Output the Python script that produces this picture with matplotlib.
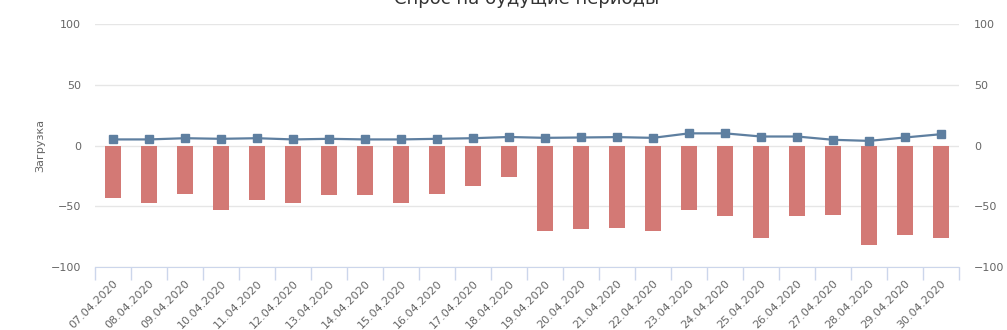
import matplotlib
matplotlib.use("Agg")
import matplotlib.pyplot as plt
import numpy as np

# === DATA ===
dates = ["07.04.2020", "08.04.2020", "09.04.2020", "10.04.2020", "11.04.2020",
         "12.04.2020", "13.04.2020", "14.04.2020", "15.04.2020", "16.04.2020",
         "17.04.2020", "18.04.2020", "19.04.2020", "20.04.2020", "21.04.2020",
         "22.04.2020", "23.04.2020", "24.04.2020", "25.04.2020", "26.04.2020",
         "27.04.2020", "28.04.2020", "29.04.2020", "30.04.2020"]
demand = [-43, -47, -40, -53, -45, -47, -40.5, -40.5, -47, -40, -33, -26,
          -70, -69, -68, -70, -53, -58, -76, -58, -57, -82, -74, -76]
load = [5, 5, 6, 5.5, 6, 5, 5.5, 5, 5, 5.5, 6, 7,
        6.3, 6.6, 6.9, 6.3, 10, 10, 7.4, 7.4, 4.7, 3.8, 6.6, 9.3]
yticks = [-100, -50, 0, 50, 100]

# === STYLE ===
bar_color = "#d37975"
line_color = "#5e7fa0"
text_color = "#666666"
grid_color = "#e6e6e6"
axis_color = "#ccd6eb"

W, H = 1007, 330
fig = plt.figure(figsize=(W / 100, H / 100), dpi=100)
ax = fig.add_axes([95 / W, 1 - 267 / H, (959 - 95) / W, (267 - 24) / H])

x = np.arange(len(dates))
ax.bar(x, demand, width=0.47, color=bar_color, zorder=2)
ax.plot(x, load, color=line_color, lw=1.6, marker="s", markersize=6, zorder=3)

ax.set_xlim(-0.5, len(dates) - 0.5)
ax.set_ylim(-100, 100)
ax.set_yticks(yticks)
ax.yaxis.grid(True, color=grid_color, lw=1, zorder=0)
ax.set_axisbelow(True)

for s in ["top", "right", "left"]:
    ax.spines[s].set_visible(False)
ax.spines["bottom"].set_color(axis_color)

# category boundary ticks
ax.set_xticks(np.arange(len(dates) + 1) - 0.5)
ax.set_xticklabels([])
ax.tick_params(axis="x", which="major", length=9, color=axis_color, width=1)
ax.set_xticks(x, minor=True)
ax.set_xticklabels(dates, minor=True, rotation=45, ha="right",
                   rotation_mode="anchor", fontsize=8, color=text_color)
ax.tick_params(axis="x", which="minor", length=0, pad=8)

ax.tick_params(axis="y", length=0, labelsize=8, labelcolor=text_color, pad=10)
ax.set_ylabel("Загрузка", fontsize=8, color=text_color, labelpad=4)

# right axis mirrors the left one
ax2 = ax.twinx()
ax2.set_ylim(-100, 100)
ax2.set_yticks(yticks)
ax2.tick_params(axis="y", length=0, labelsize=8, labelcolor=text_color, pad=11)
for s in ax2.spines.values():
    s.set_visible(False)

fig.text(527 / W, 1 - 4 / H, "Спрос на будущие периоды", ha="center",
         va="baseline", fontsize=13, color="#333333")

fig.savefig("out.png", dpi=100)
